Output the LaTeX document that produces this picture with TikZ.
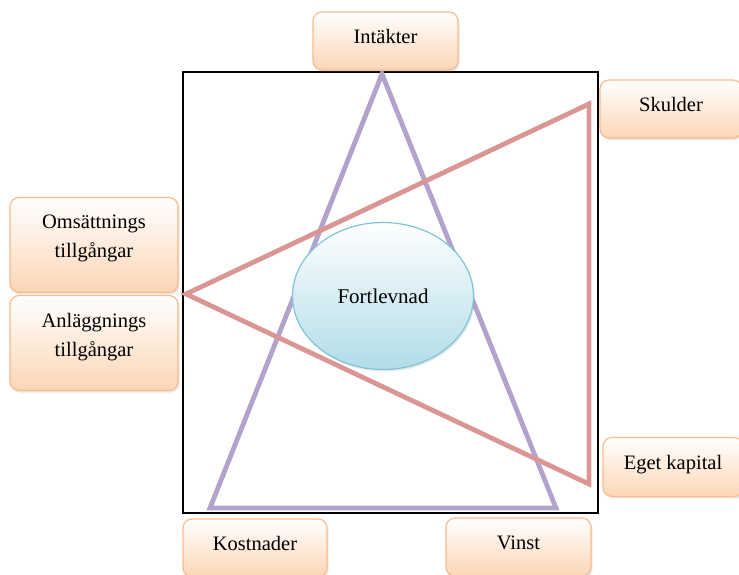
\documentclass[tikz,border=0pt]{standalone}
\usepackage{fontspec}
\setmainfont{Liberation Serif}
\usetikzlibrary{shapes.geometric,shadows}

\definecolor{boxline}{RGB}{249,188,140}
\definecolor{boxfill}{RGB}{252,214,182}
\definecolor{ovalline}{RGB}{128,196,214}
\definecolor{ovalfill}{RGB}{176,220,232}
\definecolor{triviolet}{RGB}{178,162,204}
\definecolor{trired}{RGB}{218,150,148}

\tikzset{
  labelbox/.style={draw=boxline, line width=1.2pt, rounded corners=9pt,
    top color=white, bottom color=boxfill,
    drop shadow={opacity=0.18, shadow xshift=1.5pt, shadow yshift=-2pt},
    font=\fontsize{20.5}{29}\selectfont, align=center, inner sep=0pt},
  onebox/.style={labelbox, text depth=9pt},
  twobox/.style={labelbox, text depth=17pt, minimum width=168pt, minimum height=95pt},
  oval/.style={ellipse, draw=ovalline, line width=1.2pt,
    top color=white, bottom color=ovalfill,
    drop shadow={opacity=0.18, shadow xshift=1.5pt, shadow yshift=-2pt},
    minimum width=181pt, minimum height=147pt, inner sep=0pt,
    font=\fontsize{21}{24}\selectfont},
  frame/.style={draw=black, line width=1.5pt},
  tri/.style={line width=4.8pt, line join=miter},
}

\begin{document}
\begin{tikzpicture}[x=1pt, y=-1pt]
  \useasboundingbox (0,0) rectangle (739,574);

  % outer frame
  \draw[frame] (183,72) rectangle (598,513);

  % corners of the two triangles
  \coordinate (vtop) at (382,74);
  \coordinate (vleft) at (210,508);
  \coordinate (vright) at (556,508);
  \coordinate (rleft) at (186,294);
  \coordinate (rtop) at (589,104);
  \coordinate (rbottom) at (589,484);

  \draw[tri, draw=triviolet] (vtop) -- (vright) -- (vleft) -- cycle;
  \draw[tri, draw=trired] (rleft) -- (rtop) -- (rbottom) -- cycle;

  % centre
  \node[oval] (fortlevnad) at (383,296) {Fortlevnad};

  % surrounding labels
  \node[onebox, minimum width=145pt, minimum height=58pt] (intakter) at (385.5,41) {Intäkter};
  \node[onebox, minimum width=142pt, minimum height=58pt] (skulder) at (671,109) {Skulder};
  \node[onebox, minimum width=140pt, minimum height=59pt] (eget) at (673,467) {Eget kapital};
  \node[onebox, minimum width=144pt, minimum height=58pt] (kostnader) at (255,548) {Kostnader};
  \node[onebox, minimum width=145pt, minimum height=58pt] (vinst) at (518.5,547) {Vinst};
  \node[twobox] (omsattning) at (94,245) {Omsättnings\\tillgångar};
  \node[twobox] (anlaggning) at (94,343) {Anläggnings\\tillgångar};
\end{tikzpicture}
\end{document}
